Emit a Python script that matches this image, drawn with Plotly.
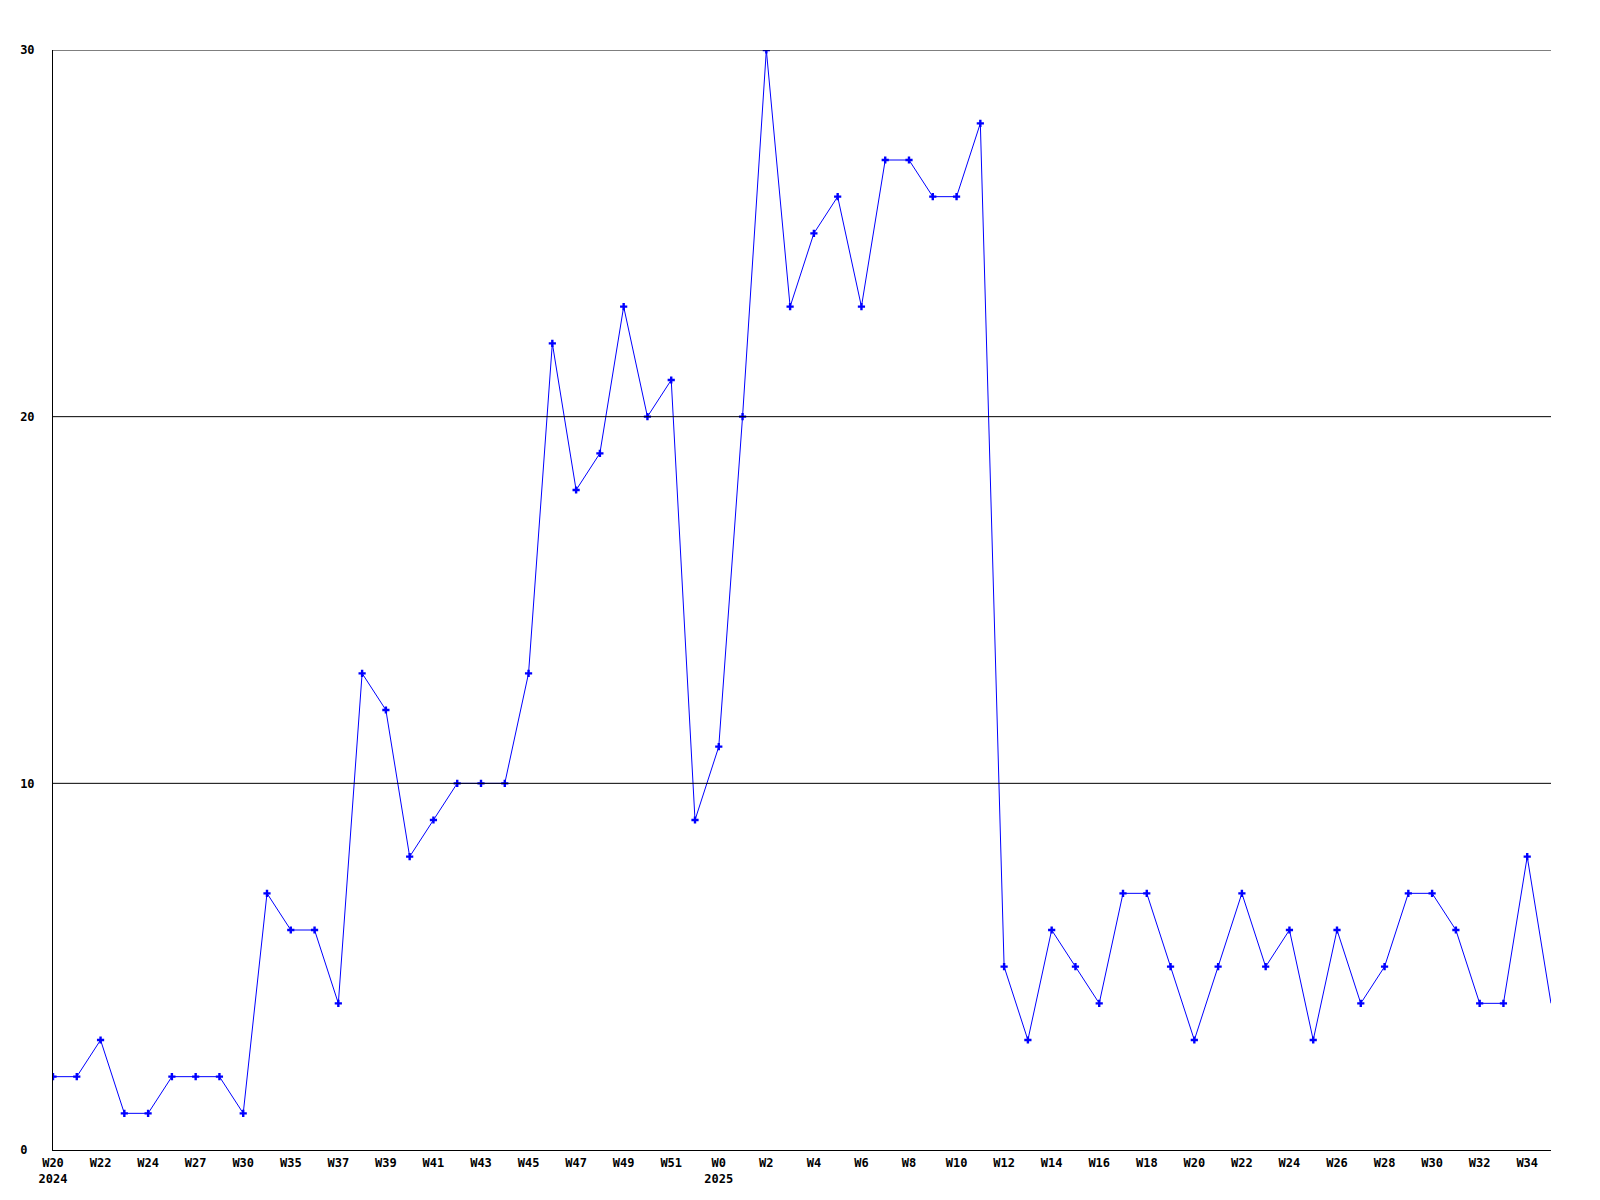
import plotly.graph_objects as go

years = [2024] * 28 + [2025] * 36
weeks = ["W20", "W21", "W22", "W23", "W24", "W25", "W27", "W28", "W30", "W31",
         "W35", "W36", "W37", "W38", "W39", "W40", "W41", "W42", "W43", "W44",
         "W45", "W46", "W47", "W48", "W49", "W50", "W51", "W52"] + \
        ["W%d" % i for i in range(0, 36)]
values = [2, 2, 3, 1, 1, 2, 2, 2, 1, 7,
          6, 6, 4, 13, 12, 8, 9, 10, 10, 10,
          13, 22, 18, 19, 23, 20, 21, 9, 11, 20,
          30, 23, 25, 26, 23, 27, 27, 26, 26, 28,
          5, 3, 6, 5, 4, 7, 7, 5, 3, 5,
          7, 5, 6, 3, 6, 4, 5, 7, 7, 6,
          4, 4, 8, 4]
y_ticks = [0, 10, 20, 30]

cats = ["%d %s" % (y, w) for y, w in zip(years, weeks)]

tickvals = cats[::2]
ticktext = []
seen = set()
for i in range(0, len(cats), 2):
    t = weeks[i]
    if years[i] not in seen:
        t += "<br>%d" % years[i]
        seen.add(years[i])
    ticktext.append(t)

FONT = "DejaVu Sans Mono"

fig = go.Figure()
fig.add_trace(go.Scatter(
    x=cats, y=values, mode="lines",
    line=dict(color="#0000ff", width=1),
    hoverinfo="skip", showlegend=False))
fig.add_trace(go.Scatter(
    x=cats[:-1], y=values[:-1], mode="markers",
    marker=dict(symbol="cross", size=6, color="#0000ff", line=dict(width=0)),
    showlegend=False))

for v in y_ticks[1:]:
    fig.add_shape(type="line", xref="paper", yref="y", x0=0, x1=1, y0=v, y1=v,
                  line=dict(color="black", width=1), layer="above")

fig.update_layout(
    width=1600, height=1200,
    margin=dict(l=40, r=57, t=42, b=58),
    paper_bgcolor="white", plot_bgcolor="white",
    font=dict(family=FONT, size=12, color="black"),
    xaxis=dict(
        type="category", categoryorder="array", categoryarray=cats,
        range=[0, len(cats) - 1],
        tickmode="array", tickvals=tickvals, ticktext=ticktext,
        showgrid=False, zeroline=False,
        showline=True, linecolor="black", linewidth=1,
        ticks="", tickfont=dict(family=FONT, size=12, color="black", weight="bold"),
        ticklabelstandoff=2,
    ),
    yaxis=dict(
        range=[0, 30],
        tickmode="array", tickvals=y_ticks,
        ticktext=[("%d" % v).ljust(2, "\u00a0") for v in y_ticks],
        showgrid=False, zeroline=False,
        showline=True, linecolor="black", linewidth=1,
        ticks="", tickfont=dict(family=FONT, size=12, color="black", weight="bold"),
        ticklabelstandoff=15,
    ),
)

fig.write_html("out.html")
